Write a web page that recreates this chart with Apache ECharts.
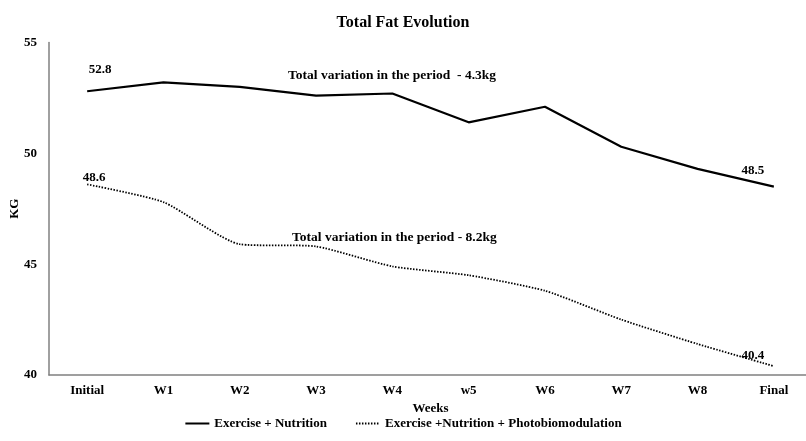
<!DOCTYPE html>
<html>
<head>
<meta charset="utf-8">
<script src="https://cdn.jsdelivr.net/npm/echarts@6/dist/echarts.min.js"></script>
<style>html,body{margin:0;padding:0;background:#fff}#c{width:806px;height:441px}</style>
</head>
<body>
<div id="c"></div>
<script>
const categories = ['Initial', 'W1', 'W2', 'W3', 'W4', 'w5', 'W6', 'W7', 'W8', 'Final'];
const exerciseNutrition = [52.8, 53.2, 53.0, 52.6, 52.7, 51.4, 52.1, 50.3, 49.3, 48.5];
const exerciseNutritionPbm = [48.6, 47.8, 45.9, 45.8, 44.9, 44.5, 43.8, 42.5, 41.4, 40.4];
const seriesNames = ['Exercise + Nutrition', 'Exercise +Nutrition + Photobiomodulation'];
const yTicks = { min: 40, max: 55, interval: 5 };
const annotations = ['Total variation in the period  - 4.3kg', 'Total variation in the period - 8.2kg'];

const FONT = 'Liberation Serif';
const labelStyle = { show: true, position: 'top', fontFamily: FONT, fontWeight: 'bold', fontSize: 13, color: '#000' };

function buildData(values, labelOffsets) {
  return values.map((v, i) => {
    if (labelOffsets[i]) {
      return { value: v, symbol: 'circle', symbolSize: 0,
               label: Object.assign({}, labelStyle, { offset: labelOffsets[i] }) };
    }
    return v;
  });
}

const chart = echarts.init(document.getElementById('c'), null, { renderer: 'canvas' });
chart.setOption({
  animation: false,
  backgroundColor: '#fff',
  title: {
    text: 'Total Fat Evolution', left: 'center', top: 10,
    textStyle: { fontFamily: FONT, fontWeight: 'bold', fontSize: 16, color: '#000' }
  },
  grid: { left: 49, right: -6, top: 42.5, bottom: 66, containLabel: false, outerBoundsMode: 'none' },
  xAxis: {
    type: 'category', data: categories, boundaryGap: true,
    axisLine: { lineStyle: { color: '#808080', width: 1.5 } },
    axisTick: { show: false },
    axisLabel: { margin: 9, fontFamily: FONT, fontWeight: 'bold', fontSize: 13, color: '#000' },
    name: 'Weeks', nameLocation: 'middle', nameGap: 27, nameMoveOverlap: false,
    nameTextStyle: { fontFamily: FONT, fontWeight: 'bold', fontSize: 13, color: '#000' }
  },
  yAxis: {
    type: 'value', min: yTicks.min, max: yTicks.max, interval: yTicks.interval,
    axisLine: { show: true, lineStyle: { color: '#808080', width: 1.5 } },
    axisTick: { show: false },
    splitLine: { show: false },
    axisLabel: { margin: 12, fontFamily: FONT, fontWeight: 'bold', fontSize: 13, color: '#000' },
    name: 'KG', nameLocation: 'middle', nameGap: 28, nameRotate: 90, nameMoveOverlap: false,
    nameTextStyle: { fontFamily: FONT, fontWeight: 'bold', fontSize: 13, color: '#000' }
  },
  legend: {
    bottom: 6, left: 'center', itemWidth: 24, itemHeight: 10, itemGap: 28,
    itemStyle: { color: 'transparent', borderWidth: 0, opacity: 0 },
    textStyle: { fontFamily: FONT, fontWeight: 'bold', fontSize: 13, color: '#000' },
    data: seriesNames
  },
  series: [
    {
      name: seriesNames[0], type: 'line', symbol: 'none',
      lineStyle: { color: '#000', width: 2.2, type: 'solid' },
      itemStyle: { color: '#000' },
      data: buildData(exerciseNutrition, { 0: [13, -10], 9: [-21, -4] })
    },
    {
      name: seriesNames[1], type: 'line', symbol: 'none', smooth: 0.2,
      lineStyle: { color: '#000', width: 1.8, type: [1.5, 1.5] },
      itemStyle: { color: '#000' },
      data: buildData(exerciseNutritionPbm, { 0: [7, 5], 9: [-21, 1] })
    }
  ],
  graphic: [
    { type: 'text', left: 288, top: 69, style: { text: annotations[0], font: 'bold 13.5px "Liberation Serif"', fill: '#000' } },
    { type: 'text', left: 292, top: 231, style: { text: annotations[1], font: 'bold 13.5px "Liberation Serif"', fill: '#000' } }
  ]
});
</script>
</body>
</html>
